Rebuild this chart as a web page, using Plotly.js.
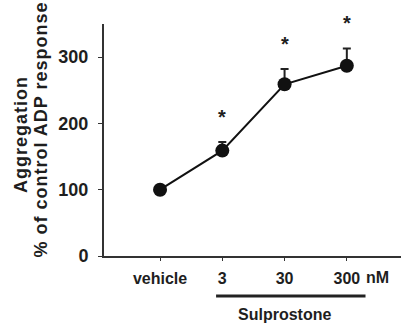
<!DOCTYPE html>
<html><head><meta charset="utf-8">
<script src="https://cdn.plot.ly/plotly-3.0.1.min.js"></script>
<style>body{margin:0;background:#fff}
.annotation[data-index="0"] text,.annotation[data-index="1"] text{letter-spacing:1px}</style>
</head><body>
<div id="chart" style="width:401px;height:327px"></div>
<script>
const categories = [0, 1, 2, 3];
const tickLabels = ["vehicle", "3", "30", "300"];
const aggregation = [100, 159, 259, 287];
const errorPlus = [0, 13, 23, 26];
const starPositions = [1, 2, 3];
const starValues = [216, 326, 357];
const yTicks = [0, 100, 200, 300];
const yTitleLines = ["Aggregation", "% of control ADP response"];
const Y_MAX = 350;

const FONT = "Liberation Sans, Arial, sans-serif";
const TXT = "#1e1e1e";

const trace = {
  x: categories, y: aggregation, type: "scatter", mode: "lines+markers",
  line: {color: "#111", width: 2},
  marker: {color: "#111", size: 14},
  error_y: {type: "data", symmetric: false, array: errorPlus, arrayminus: categories.map(() => 0),
            color: "#222", thickness: 2, width: 4},
  cliponaxis: false, hoverinfo: "none"
};

const bold = (size) => ({family: FONT, size: size, color: TXT, weight: "bold"});
const annotations = [
  {x: -0.2828, y: 0.5237, xref: "paper", yref: "paper", text: yTitleLines[0], textangle: -90,
   showarrow: false, xanchor: "center", yanchor: "middle", font: bold(18)},
  {x: -0.2121, y: 0.543, xref: "paper", yref: "paper", text: yTitleLines[1], textangle: -90,
   showarrow: false, xanchor: "center", yanchor: "middle", font: bold(18)}
];
starPositions.forEach((x, i) => annotations.push({
  x: x, y: starValues[i] / Y_MAX, xref: "x", yref: "paper", text: "*", showarrow: false,
  font: bold(20), yanchor: "middle", yshift: -4
}));
annotations.push({x: 3, y: 0, xref: "x", yref: "paper", text: "nM", showarrow: false, xanchor: "left",
  yanchor: "top", xshift: 17, yshift: -11, font: bold(16)});
annotations.push({x: 2, y: -0.254, xref: "x", yref: "paper", text: "Sulprostone", showarrow: false,
  yanchor: "middle", font: bold(16)});

const layout = {
  width: 401, height: 327,
  margin: {l: 104, r: 0, t: 24, b: 71},
  paper_bgcolor: "#fff", plot_bgcolor: "#fff",
  showlegend: false,
  xaxis: {
    range: [-0.9, 3.87], tickvals: categories, ticktext: tickLabels,
    showgrid: false, zeroline: false, showline: true, linecolor: "#333", linewidth: 2,
    ticks: "outside", ticklen: 3, tickcolor: "#333", tickwidth: 1, ticklabelstandoff: 4,
    tickfont: bold(16), fixedrange: true
  },
  yaxis: {
    range: [0, Y_MAX], tickvals: yTicks,
    showgrid: false, zeroline: false, showline: true, linecolor: "#333", linewidth: 2,
    ticks: "outside", ticklen: 4, tickcolor: "#333", tickwidth: 1, ticklabelstandoff: 6,
    tickfont: bold(18), fixedrange: true
  },
  annotations: annotations,
  shapes: [{type: "line", xref: "x", yref: "paper", x0: 0.9, x1: 3.3, y0: -0.172, y1: -0.172,
            line: {color: "#222", width: 3}}]
};

Plotly.newPlot("chart", [trace], layout, {displayModeBar: false, staticPlot: true});
</script>
</body></html>
